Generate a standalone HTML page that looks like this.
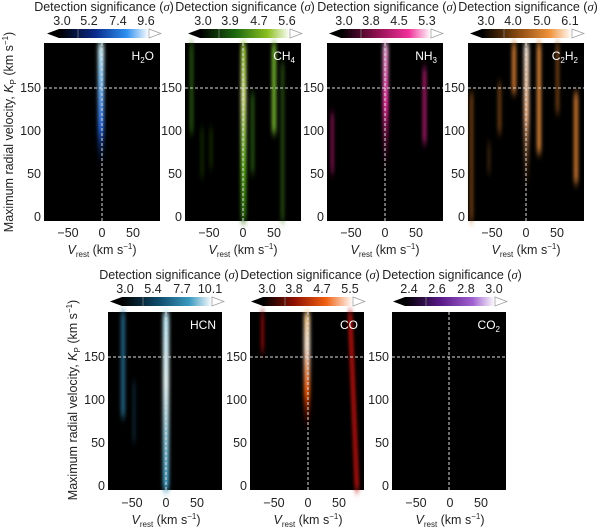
<!DOCTYPE html>
<html><head><meta charset="utf-8"><style>
html,body{margin:0;padding:0;background:#fff;}
svg{display:block;font-family:"Liberation Sans",sans-serif;}
</style></head><body>
<svg width="600" height="527" viewBox="0 0 600 527" xmlns="http://www.w3.org/2000/svg">
<defs>
<filter id="b" x="-300%" y="-20%" width="700%" height="140%"><feGaussianBlur stdDeviation="1.8 4.5"/></filter>
<linearGradient id="cH2O"><stop offset="0" stop-color="#000"/><stop offset=".4" stop-color="#0a2a8a"/><stop offset=".75" stop-color="#2d8ff0"/><stop offset="1" stop-color="#fff"/></linearGradient>
<linearGradient id="cCH4"><stop offset="0" stop-color="#000"/><stop offset=".4" stop-color="#1e6a10"/><stop offset=".75" stop-color="#8cc020"/><stop offset="1" stop-color="#fff"/></linearGradient>
<linearGradient id="cNH3"><stop offset="0" stop-color="#000"/><stop offset=".4" stop-color="#901050"/><stop offset=".75" stop-color="#f0309a"/><stop offset="1" stop-color="#fff"/></linearGradient>
<linearGradient id="cC2H2"><stop offset="0" stop-color="#000"/><stop offset=".4" stop-color="#8a4a10"/><stop offset=".75" stop-color="#f0923a"/><stop offset="1" stop-color="#fff"/></linearGradient>
<linearGradient id="cHCN"><stop offset="0" stop-color="#000"/><stop offset=".4" stop-color="#0f4a6a"/><stop offset=".75" stop-color="#3a9ac0"/><stop offset="1" stop-color="#fff"/></linearGradient>
<linearGradient id="cCO"><stop offset="0" stop-color="#000"/><stop offset=".35" stop-color="#901000"/><stop offset=".7" stop-color="#f06010"/><stop offset="1" stop-color="#fff"/></linearGradient>
<linearGradient id="cCO2"><stop offset="0" stop-color="#000"/><stop offset=".4" stop-color="#5a1a8a"/><stop offset=".75" stop-color="#a060d0"/><stop offset="1" stop-color="#fff"/></linearGradient>
<linearGradient id="gB" x1="0" y1="0" x2="0" y2="1"><stop offset="0" stop-color="#dff"/><stop offset=".3" stop-color="#8cf"/><stop offset=".7" stop-color="#2a6ae0"/><stop offset="1" stop-color="#0a2a8a" stop-opacity="0"/></linearGradient>
<linearGradient id="gG" x1="0" y1="0" x2="0" y2="1"><stop offset="0" stop-color="#9c3"/><stop offset=".3" stop-color="#ef9"/><stop offset=".7" stop-color="#6b2"/><stop offset="1" stop-color="#2a6a10"/></linearGradient>
<linearGradient id="gP" x1="0" y1="0" x2="0" y2="1"><stop offset="0" stop-color="#fbe"/><stop offset=".5" stop-color="#f3a"/><stop offset="1" stop-color="#801040" stop-opacity="0"/></linearGradient>
<linearGradient id="gO" x1="0" y1="0" x2="0" y2="1"><stop offset="0" stop-color="#fed"/><stop offset=".5" stop-color="#fb8"/><stop offset="1" stop-color="#8a4a10" stop-opacity="0"/></linearGradient>
<linearGradient id="gC" x1="0" y1="0" x2="0" y2="1"><stop offset="0" stop-color="#bef"/><stop offset=".4" stop-color="#eff"/><stop offset="1" stop-color="#3a9ac0"/></linearGradient>
<linearGradient id="gR" x1="0" y1="0" x2="0" y2="1"><stop offset="0" stop-color="#fc8"/><stop offset=".3" stop-color="#fed"/><stop offset=".7" stop-color="#e50"/><stop offset="1" stop-color="#800" stop-opacity="0"/></linearGradient>
</defs>

<g font-size="12.5" fill="#222">
<text x="13" y="132" transform="rotate(-90 13 132)" text-anchor="middle">Maximum radial velocity, <tspan font-style="italic">K</tspan><tspan font-size="8" dy="3">P</tspan><tspan dy="-3"> (km s</tspan><tspan font-size="8" dy="-5">−1</tspan><tspan dy="5">)</tspan></text>
<text x="77" y="400" transform="rotate(-90 77 400)" text-anchor="middle">Maximum radial velocity, <tspan font-style="italic">K</tspan><tspan font-size="8" dy="3">P</tspan><tspan dy="-3"> (km s</tspan><tspan font-size="8" dy="-5">−1</tspan><tspan dy="5">)</tspan></text>
</g>

<g transform="translate(44,43)">
<rect width="116" height="178" fill="#000"/>
<rect x="54" y="0" width="6" height="120" fill="url(#gB)" filter="url(#b)"/>
<line x1="58" y1="0" x2="58" y2="178" stroke="#ddd" stroke-dasharray="3,2" stroke-width="1"/>
<line x1="0" y1="45" x2="116" y2="45" stroke="#ddd" stroke-dasharray="3,2" stroke-width="1"/>
<text x="110" y="17" fill="#fff" font-size="12" text-anchor="end">H<tspan font-size="8" dy="3">2</tspan><tspan dy="-3">O</tspan></text>
</g>
<g transform="translate(185,43)">
<rect width="116" height="178" fill="#000"/>
<g filter="url(#b)">
<rect x="56" y="0" width="5" height="178" fill="url(#gG)"/>
<rect x="87" y="0" width="4" height="90" fill="#7b3"/>
<rect x="96" y="20" width="3" height="158" fill="#3a6a18" opacity=".8"/>
<rect x="5" y="0" width="3" height="90" fill="#3a7a18" opacity=".8"/>
<rect x="66" y="50" width="3" height="80" fill="#3a7a18" opacity=".8"/>
<rect x="16" y="85" width="2" height="50" fill="#2a5a10" opacity=".7"/>
<rect x="25" y="85" width="2" height="40" fill="#2a5a10" opacity=".7"/>
</g>
<line x1="58" y1="0" x2="58" y2="178" stroke="#ddd" stroke-dasharray="3,2"/>
<line x1="0" y1="45" x2="116" y2="45" stroke="#ddd" stroke-dasharray="3,2"/>
<text x="110" y="17" fill="#fff" font-size="12" text-anchor="end">CH<tspan font-size="8" dy="3">4</tspan></text>
</g>
<g transform="translate(327,43)">
<rect width="116" height="178" fill="#000"/>
<g filter="url(#b)">
<rect x="56" y="0" width="5" height="125" fill="url(#gP)"/>
<rect x="96" y="25" width="3" height="75" fill="#c0207a"/>
<rect x="4" y="70" width="2.5" height="60" fill="#a01860"/>
</g>
<line x1="58" y1="0" x2="58" y2="178" stroke="#ddd" stroke-dasharray="3,2"/>
<line x1="0" y1="45" x2="116" y2="45" stroke="#ddd" stroke-dasharray="3,2"/>
<text x="110" y="17" fill="#fff" font-size="12" text-anchor="end">NH<tspan font-size="8" dy="3">3</tspan></text>
</g>
<g transform="translate(468,43)">
<rect width="116" height="178" fill="#000"/>
<g filter="url(#b)">
<rect x="56" y="0" width="5" height="145" fill="url(#gO)"/>
<rect x="69" y="0" width="4" height="110" fill="#e08a3a"/>
<rect x="44" y="0" width="4" height="50" fill="#d07a30"/>
<rect x="106" y="50" width="4" height="90" fill="#d07a30"/>
<rect x="2" y="50" width="3" height="128" fill="#a05a20" opacity=".8"/>
<rect x="30" y="40" width="3" height="50" fill="#a05a20" opacity=".8"/>
<rect x="88" y="0" width="3" height="70" fill="#a05a20" opacity=".8"/>
<rect x="20" y="100" width="2" height="30" fill="#7a4a18" opacity=".7"/>
</g>
<line x1="58" y1="0" x2="58" y2="178" stroke="#ddd" stroke-dasharray="3,2"/>
<line x1="0" y1="45" x2="116" y2="45" stroke="#ddd" stroke-dasharray="3,2"/>
<text x="110" y="17" fill="#fff" font-size="12" text-anchor="end">C<tspan font-size="8" dy="3">2</tspan><tspan dy="-3">H</tspan><tspan font-size="8" dy="3">2</tspan></text>
</g>

<g transform="translate(108,312)">
<rect width="114" height="178" fill="#000"/>
<g filter="url(#b)">
<rect x="55" y="0" width="6" height="178" fill="url(#gC)"/>
<rect x="13" y="0" width="4" height="105" fill="#2a7aa0" opacity=".85"/>
<rect x="25" y="70" width="2" height="60" fill="#1a4a6a" opacity=".7"/>
</g>
<line x1="58" y1="0" x2="58" y2="178" stroke="#ddd" stroke-dasharray="3,2"/>
<line x1="0" y1="45" x2="114" y2="45" stroke="#ddd" stroke-dasharray="3,2"/>
<text x="108" y="17" fill="#fff" font-size="12" text-anchor="end">HCN</text>
</g>
<g transform="translate(250,312)">
<rect width="114" height="178" fill="#000"/>
<g filter="url(#b)">
<rect x="54" y="0" width="6" height="115" fill="url(#gR)"/>
<polygon points="98,0 102,0 109,178 105,178" fill="#c01810"/>
<rect x="11" y="0" width="3" height="40" fill="#901010"/>
</g>
<line x1="58" y1="0" x2="58" y2="178" stroke="#ddd" stroke-dasharray="3,2"/>
<line x1="0" y1="45" x2="114" y2="45" stroke="#ddd" stroke-dasharray="3,2"/>
<text x="108" y="17" fill="#fff" font-size="12" text-anchor="end">CO</text>
</g>
<g transform="translate(392,312)">
<rect width="114" height="178" fill="#000"/>
<line x1="57" y1="0" x2="57" y2="178" stroke="#ddd" stroke-dasharray="3,2"/>
<line x1="0" y1="45" x2="114" y2="45" stroke="#ddd" stroke-dasharray="3,2"/>
<text x="108" y="17" fill="#fff" font-size="12" text-anchor="end">CO<tspan font-size="8" dy="3">2</tspan></text>
</g>

<g font-size="12.5" fill="#222" text-anchor="middle">
<text x="104" y="11">Detection significance (<tspan font-family="Liberation Serif" font-style="italic">σ</tspan>)</text>
<text x="245" y="11">Detection significance (<tspan font-family="Liberation Serif" font-style="italic">σ</tspan>)</text>
<text x="387" y="11">Detection significance (<tspan font-family="Liberation Serif" font-style="italic">σ</tspan>)</text>
<text x="528" y="11">Detection significance (<tspan font-family="Liberation Serif" font-style="italic">σ</tspan>)</text>
<text x="169" y="279">Detection significance (<tspan font-family="Liberation Serif" font-style="italic">σ</tspan>)</text>
<text x="310" y="279">Detection significance (<tspan font-family="Liberation Serif" font-style="italic">σ</tspan>)</text>
<text x="452" y="279">Detection significance (<tspan font-family="Liberation Serif" font-style="italic">σ</tspan>)</text>

<g transform="translate(44,0)"><text x="18" y="25">3.0</text><text x="45" y="25">5.2</text><text x="74" y="25">7.4</text><text x="102" y="25">9.6</text></g>
<g transform="translate(185,0)"><text x="18" y="25">3.0</text><text x="45" y="25">3.9</text><text x="74" y="25">4.7</text><text x="102" y="25">5.6</text></g>
<g transform="translate(327,0)"><text x="17" y="25">3.0</text><text x="44" y="25">3.8</text><text x="72" y="25">4.5</text><text x="100" y="25">5.3</text></g>
<g transform="translate(468,0)"><text x="18" y="25">3.0</text><text x="45" y="25">4.0</text><text x="74" y="25">5.0</text><text x="102" y="25">6.1</text></g>
<g transform="translate(108,268)"><text x="17" y="25">3.0</text><text x="45" y="25">5.4</text><text x="74" y="25">7.7</text><text x="102" y="25">10.1</text></g>
<g transform="translate(250,268)"><text x="17" y="25">3.0</text><text x="44" y="25">3.8</text><text x="72" y="25">4.7</text><text x="100" y="25">5.5</text></g>
<g transform="translate(392,268)"><text x="17" y="25">2.4</text><text x="45" y="25">2.6</text><text x="74" y="25">2.8</text><text x="102" y="25">3.0</text></g>
</g>

<g stroke-width="0.7">
<g transform="translate(47,29)"><polygon points="0,4.5 12,0 12,9" fill="#000"/><rect x="12" y="0" width="90" height="9" fill="url(#cH2O)"/><polygon points="102,0 114,4.5 102,9" fill="#fff" stroke="#999"/><line x1="31" y1="0" x2="31" y2="9" stroke="#888"/></g>
<g transform="translate(188,29)"><polygon points="0,4.5 12,0 12,9" fill="#000"/><rect x="12" y="0" width="90" height="9" fill="url(#cCH4)"/><polygon points="102,0 114,4.5 102,9" fill="#fff" stroke="#999"/><line x1="31" y1="0" x2="31" y2="9" stroke="#888"/></g>
<g transform="translate(329,29)"><polygon points="0,4.5 12,0 12,9" fill="#000"/><rect x="12" y="0" width="90" height="9" fill="url(#cNH3)"/><polygon points="102,0 114,4.5 102,9" fill="#fff" stroke="#999"/><line x1="32" y1="0" x2="32" y2="9" stroke="#888"/></g>
<g transform="translate(470,29)"><polygon points="0,4.5 12,0 12,9" fill="#000"/><rect x="12" y="0" width="90" height="9" fill="url(#cC2H2)"/><polygon points="102,0 114,4.5 102,9" fill="#fff" stroke="#999"/><line x1="34" y1="0" x2="34" y2="9" stroke="#888"/></g>
<g transform="translate(110,297)"><polygon points="0,4.5 12,0 12,9" fill="#000"/><rect x="12" y="0" width="90" height="9" fill="url(#cHCN)"/><polygon points="102,0 114,4.5 102,9" fill="#fff" stroke="#999"/><line x1="33" y1="0" x2="33" y2="9" stroke="#888"/></g>
<g transform="translate(251,297)"><polygon points="0,4.5 12,0 12,9" fill="#000"/><rect x="12" y="0" width="90" height="9" fill="url(#cCO)"/><polygon points="102,0 114,4.5 102,9" fill="#fff" stroke="#999"/><line x1="34" y1="0" x2="34" y2="9" stroke="#888"/></g>
<g transform="translate(393,297)"><polygon points="0,4.5 12,0 12,9" fill="#000"/><rect x="12" y="0" width="90" height="9" fill="url(#cCO2)"/><polygon points="102,0 114,4.5 102,9" fill="#fff" stroke="#999"/><line x1="33" y1="0" x2="33" y2="9" stroke="#888"/></g>
</g>

<g font-size="12.5" fill="#222">
<g text-anchor="end">
<text x="41" y="221">0</text><text x="41" y="178">50</text><text x="41" y="135">100</text><text x="41" y="92">150</text>
<text x="182" y="221">0</text><text x="182" y="178">50</text><text x="182" y="135">100</text><text x="182" y="92">150</text>
<text x="324" y="221">0</text><text x="324" y="178">50</text><text x="324" y="135">100</text><text x="324" y="92">150</text>
<text x="465" y="221">0</text><text x="465" y="178">50</text><text x="465" y="135">100</text><text x="465" y="92">150</text>
<text x="105" y="490">0</text><text x="105" y="447">50</text><text x="105" y="404">100</text><text x="105" y="361">150</text>
<text x="247" y="490">0</text><text x="247" y="447">50</text><text x="247" y="404">100</text><text x="247" y="361">150</text>
<text x="389" y="490">0</text><text x="389" y="447">50</text><text x="389" y="404">100</text><text x="389" y="361">150</text>
</g>
<g text-anchor="middle">
<g transform="translate(44,237)"><text x="24">−50</text><text x="58">0</text><text x="89">50</text><text x="58" y="17"><tspan font-style="italic">V</tspan><tspan font-size="8" dy="3">rest</tspan><tspan dy="-3"> (km s</tspan><tspan font-size="8" dy="-5">−1</tspan><tspan dy="5">)</tspan></text></g>
<g transform="translate(185,237)"><text x="24">−50</text><text x="58">0</text><text x="89">50</text><text x="58" y="17"><tspan font-style="italic">V</tspan><tspan font-size="8" dy="3">rest</tspan><tspan dy="-3"> (km s</tspan><tspan font-size="8" dy="-5">−1</tspan><tspan dy="5">)</tspan></text></g>
<g transform="translate(327,237)"><text x="24">−50</text><text x="58">0</text><text x="89">50</text><text x="58" y="17"><tspan font-style="italic">V</tspan><tspan font-size="8" dy="3">rest</tspan><tspan dy="-3"> (km s</tspan><tspan font-size="8" dy="-5">−1</tspan><tspan dy="5">)</tspan></text></g>
<g transform="translate(468,237)"><text x="24">−50</text><text x="58">0</text><text x="89">50</text><text x="58" y="17"><tspan font-style="italic">V</tspan><tspan font-size="8" dy="3">rest</tspan><tspan dy="-3"> (km s</tspan><tspan font-size="8" dy="-5">−1</tspan><tspan dy="5">)</tspan></text></g>
<g transform="translate(108,507)"><text x="24">−50</text><text x="58">0</text><text x="89">50</text><text x="58" y="17"><tspan font-style="italic">V</tspan><tspan font-size="8" dy="3">rest</tspan><tspan dy="-3"> (km s</tspan><tspan font-size="8" dy="-5">−1</tspan><tspan dy="5">)</tspan></text></g>
<g transform="translate(250,507)"><text x="24">−50</text><text x="58">0</text><text x="89">50</text><text x="58" y="17"><tspan font-style="italic">V</tspan><tspan font-size="8" dy="3">rest</tspan><tspan dy="-3"> (km s</tspan><tspan font-size="8" dy="-5">−1</tspan><tspan dy="5">)</tspan></text></g>
<g transform="translate(392,507)"><text x="24">−50</text><text x="58">0</text><text x="89">50</text><text x="58" y="17"><tspan font-style="italic">V</tspan><tspan font-size="8" dy="3">rest</tspan><tspan dy="-3"> (km s</tspan><tspan font-size="8" dy="-5">−1</tspan><tspan dy="5">)</tspan></text></g>
</g>
</g>
</svg>
</body></html>
